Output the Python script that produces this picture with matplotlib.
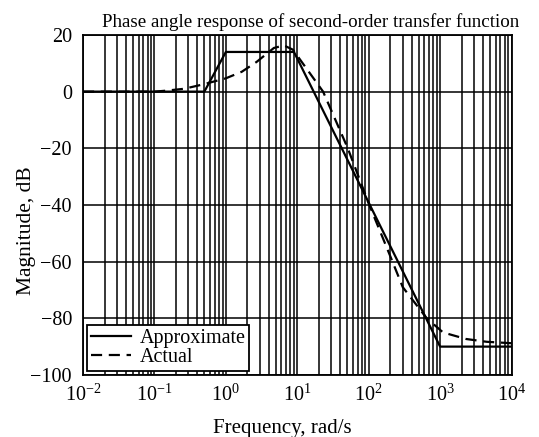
import matplotlib
matplotlib.use("Agg")
import matplotlib.pyplot as plt
from matplotlib.ticker import LogFormatterMathtext, FixedLocator, NullFormatter

plt.rcParams['font.family'] = ['Liberation Serif', 'DejaVu Serif']
plt.rcParams['mathtext.fontset'] = 'custom'
plt.rcParams['mathtext.rm'] = 'Liberation Serif'
plt.rcParams['mathtext.it'] = 'Liberation Serif:italic'
plt.rcParams['mathtext.bf'] = 'Liberation Serif:bold'

# Data
approx_freq = [0.01, 0.5, 1.0, 9.0, 1000.0, 10000.0]
approx_db = [0, 0, 14, 14, -90, -90]

actual_freq = [0.01, 0.1, 0.14, 0.26, 0.49, 1.0, 1.67, 2.7, 4.7, 6.5, 8.7,
               23, 51, 102, 200, 300, 650, 940, 1100, 2300, 4500, 10000]
actual_db = [0, 0, 0.3, 1.0, 2.6, 4.7, 7.0, 10.5, 15.4, 16.3, 14.8,
             0, -20, -40, -58, -69, -80, -83.5, -85, -87.3, -88.3, -88.8]

x_major = [1e-2, 1e-1, 1e0, 1e1, 1e2, 1e3, 1e4]
y_ticks = [20, 0, -20, -40, -60, -80, -100]
title = "Phase angle response of second-order transfer function"

W, H = 539, 437
fig = plt.figure(figsize=(W / 100, H / 100), dpi=100)
ax = fig.add_axes([0.154, 0.142, 0.795, 0.778])

ax.plot(approx_freq, approx_db, color='black', lw=1.6, label='Approximate', zorder=3)
ax.plot(actual_freq, actual_db, color='black', lw=1.6, ls=(0, (5, 3)), label='Actual', zorder=3)

ax.set_xscale('log')
ax.set_xlim(1e-2, 1e4)
ax.set_ylim(-100, 20)
x_minor = [m * d for d in x_major[:-1] for m in range(2, 10)]
ax.xaxis.set_major_locator(FixedLocator(x_major))
ax.xaxis.set_major_formatter(LogFormatterMathtext())
ax.xaxis.set_minor_locator(FixedLocator(x_minor))
ax.xaxis.set_minor_formatter(NullFormatter())
ax.yaxis.set_major_locator(FixedLocator(y_ticks))

ax.grid(True, which='both', axis='x', color='black', lw=1.1)
ax.grid(True, which='major', axis='y', color='black', lw=1.1)
ax.tick_params(which='both', length=0, labelsize=14.5)
ax.tick_params(axis='x', pad=7)
ax.tick_params(axis='y', pad=8)
for s in ax.spines.values():
    s.set_linewidth(1.3)

fig.text(311 / W, 1 - 27 / H, title, fontsize=13.7, ha='center', va='baseline')
ax.set_xlabel('Frequency, rad/s', fontsize=15)
ax.xaxis.set_label_coords((283 - 83.3) / 428.4, (375 - 433) / 340, transform=ax.transAxes)
ax.xaxis.label.set_va('baseline')
ax.set_ylabel('Magnitude, dB', fontsize=15.5)
ax.yaxis.set_label_coords((27 - 83.3) / 428.4, (375 - 231) / 340, transform=ax.transAxes)
ax.yaxis.label.set_va('center')

leg = ax.legend(loc='lower left', fontsize=14.5, frameon=True, fancybox=False,
                edgecolor='black', framealpha=1, borderpad=0.2, labelspacing=0.0,
                handlelength=2.0, handletextpad=0.4, borderaxespad=0.2)
leg.get_frame().set_linewidth(1.3)

fig.savefig('out.png', dpi=100)
